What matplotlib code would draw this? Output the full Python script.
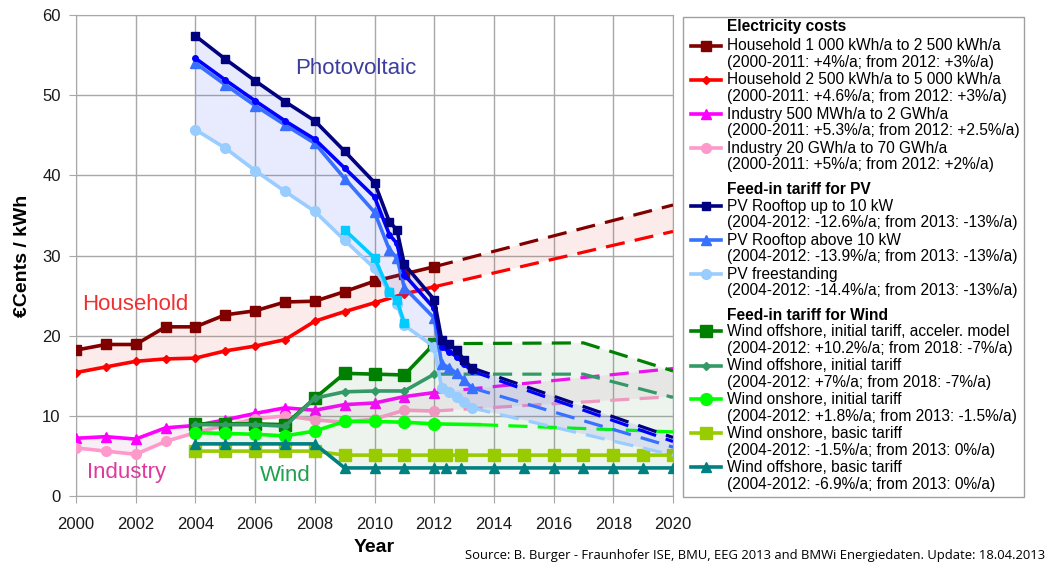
import matplotlib
matplotlib.use("Agg")
import matplotlib.pyplot as plt
from matplotlib.lines import Line2D
from matplotlib.patches import Rectangle

plt.rcParams["font.family"] = ["Liberation Sans", "DejaVu Sans"]

# ---- data, €Cents / kWh ----
hh_years = [2000, 2001, 2002, 2003, 2004, 2005, 2006, 2007, 2008, 2009, 2010, 2011, 2012]
hh_small = [18.2, 18.9, 18.9, 21.1, 21.1, 22.6, 23.1, 24.2, 24.3, 25.5, 26.8, 27.7, 28.6]
hh_large = [15.4, 16.1, 16.8, 17.1, 17.2, 18.1, 18.7, 19.5, 21.8, 23.0, 24.1, 25.2, 26.1]
ind_small = [7.2, 7.4, 7.1, 8.5, 8.8, 9.5, 10.3, 11.0, 10.7, 11.4, 11.6, 12.4, 12.9]
ind_large = [6.0, 5.6, 5.2, 6.8, 7.9, 8.8, 9.6, 10.0, 9.5, 9.2, 9.6, 10.7, 10.6]

proj_years = [2012, 2020]
hh_small_proj = [28.6, 36.3]
hh_large_proj = [26.1, 33.0]
ind_small_proj = [12.9, 15.9]
ind_large_proj = [10.6, 12.4]

pv_years = [2004, 2005, 2006, 2007, 2008, 2009, 2010, 2010.5, 2010.75, 2011,
            2012, 2012.25, 2012.5, 2012.75, 2013.0, 2013.25]
pv_small = [57.4, 54.5, 51.8, 49.2, 46.8, 43.0, 39.1, 34.2, 33.2, 28.9,
            24.5, 19.5, 18.9, 18.2, 17.0, 16.0]
pv_mid = [54.6, 51.9, 49.3, 46.8, 44.5, 40.9, 37.3, 32.6, 31.5, 27.6,
          23.4, 18.6, 18.0, 17.4, 16.5, 15.6]
pv_large = [54.0, 51.3, 48.7, 46.3, 44.0, 39.6, 35.4, 30.7, 29.7, 26.0,
            22.2, 16.5, 16.0, 15.3, 14.5, 13.5]
pv_free = [45.7, 43.4, 40.6, 38.0, 35.5, 31.9, 28.4, 25.4, 24.0, 21.3,
           18.6, 13.5, 13.0, 12.4, 11.7, 11.0]
pv_conv_years = [2009, 2010, 2010.5, 2010.75, 2011]
pv_conv = [33.2, 29.7, 25.5, 24.4, 21.6]

pv_proj_years = [2013.25, 2020]
pv_small_proj = [16.0, 7.3]
pv_mid_proj = [15.6, 6.8]
pv_large_proj = [13.5, 6.1]
pv_free_proj = [11.0, 5.1]

wind_years = [2004, 2005, 2006, 2007, 2008, 2009, 2010, 2011, 2012]
off_accel = [9.0, 9.0, 9.0, 8.9, 12.2, 15.3, 15.2, 15.1, 19.0]
off_init = [8.9, 8.9, 8.9, 8.7, 12.2, 13.0, 13.1, 13.1, 15.2]
off_proj_years = [2012, 2017, 2020]
off_accel_proj = [19.0, 19.1, 15.6]
off_init_proj = [15.2, 15.2, 12.3]

on_init_years = [2004, 2005, 2006, 2007, 2008, 2009, 2010, 2011, 2012, 2013.5]
on_init = [7.9, 7.8, 7.7, 7.5, 8.1, 9.3, 9.3, 9.2, 9.0, 8.9]
on_init_proj_years = [2013.5, 2020]
on_init_proj = [8.9, 8.0]

basic_years = [2004, 2005, 2006, 2007, 2008, 2009, 2010, 2011, 2012, 2012.4,
               2012.9, 2014, 2015, 2016, 2017, 2018, 2019, 2020]
on_basic = [5.6, 5.6, 5.6, 5.6, 5.6, 5.1, 5.1, 5.1, 5.1, 5.1,
            5.1, 5.1, 5.1, 5.1, 5.1, 5.1, 5.1, 5.1]
off_basic = [6.5, 6.5, 6.5, 6.5, 6.5, 3.5, 3.5, 3.5, 3.5, 3.5,
             3.5, 3.5, 3.5, 3.5, 3.5, 3.5, 3.5, 3.5]

STYLE = {
    "hh_small": dict(color="#800000", marker="s", ms=7.5),
    "hh_large": dict(color="#ff0000", marker="D", ms=4.5),
    "ind_small": dict(color="#ff00ff", marker="^", ms=7),
    "ind_large": dict(color="#ff99cc", marker="o", ms=7),
    "pv_small": dict(color="#000080", marker="s", ms=6),
    "pv_mid": dict(color="#0000ff", marker="o", ms=4),
    "pv_large": dict(color="#3870ff", marker="^", ms=6.5),
    "pv_free": dict(color="#99ccff", marker="o", ms=7),
    "pv_conv": dict(color="#00ccff", marker="s", ms=6),
    "off_accel": dict(color="#008000", marker="s", ms=8),
    "off_init": dict(color="#339966", marker="D", ms=4.5),
    "on_init": dict(color="#00ff00", marker="o", ms=8.5),
    "on_basic": dict(color="#99cc00", marker="s", ms=8),
    "off_basic": dict(color="#008080", marker="^", ms=6.5),
}


def draw(ax, key, xs, ys, pxs=None, pys=None, z=3, markevery=None):
    st = STYLE[key]
    ax.plot(xs, ys, color=st["color"], marker=st["marker"], ms=st["ms"],
            mec=st["color"], lw=2.6, zorder=z, markevery=markevery,
            solid_joinstyle="round")
    if pxs is not None:
        ax.plot(pxs, pys, color=st["color"], lw=2.3, dashes=(6, 3.2), zorder=z)


def band(ax, top_x, top_y, bot_x, bot_y, color, alpha, z):
    ax.fill(list(top_x) + list(bot_x)[::-1], list(top_y) + list(bot_y)[::-1],
            color=color, alpha=alpha, lw=0, zorder=z)


def main():
    fig = plt.figure(figsize=(10.48, 5.65), dpi=100)
    ax = fig.add_axes([76 / 1048, 69 / 565, 597 / 1048, 481 / 565])
    ax.set_xlim(2000, 2020)
    ax.set_ylim(0, 60)
    ax.set_xticks(range(2000, 2021, 2))
    ax.set_yticks(range(0, 61, 10))
    ax.grid(True, color="#a8a8a8", lw=1)
    ax.set_axisbelow(True)
    for s in ax.spines.values():
        s.set_color("#a8a8a8")
    ax.tick_params(colors="#a8a8a8", labelcolor="#1a1a1a", labelsize=12, length=5)
    ax.tick_params(axis="x", pad=10)
    ax.tick_params(axis="y", pad=6)

    # electricity costs
    band(ax, hh_years + proj_years, hh_small + hh_small_proj,
         hh_years + proj_years, hh_large + hh_large_proj, "#e06060", 0.12, 1)
    draw(ax, "hh_small", hh_years, hh_small, proj_years, hh_small_proj)
    draw(ax, "hh_large", hh_years, hh_large, proj_years, hh_large_proj)
    band(ax, hh_years + proj_years, ind_small + ind_small_proj,
         hh_years + proj_years, ind_large + ind_large_proj, "#c080b0", 0.12, 1)
    draw(ax, "ind_small", hh_years, ind_small, proj_years, ind_small_proj)
    draw(ax, "ind_large", hh_years, ind_large, proj_years, ind_large_proj)

    # wind
    band(ax, wind_years + off_proj_years, off_accel + off_accel_proj,
         basic_years, off_basic, "#60a060", 0.11, 4)
    draw(ax, "off_accel", wind_years, off_accel, off_proj_years, off_accel_proj, z=5)
    draw(ax, "off_init", wind_years, off_init, off_proj_years, off_init_proj, z=5)
    draw(ax, "on_init", on_init_years, on_init, on_init_proj_years, on_init_proj,
         z=5, markevery=slice(0, 9))
    draw(ax, "on_basic", basic_years, on_basic, z=5)
    draw(ax, "off_basic", basic_years, off_basic, z=5)

    # photovoltaic
    band(ax, pv_years + pv_proj_years, pv_small + pv_small_proj,
         pv_years + pv_proj_years, pv_free + pv_free_proj, "#5060f0", 0.13, 6)
    draw(ax, "pv_free", pv_years, pv_free, pv_proj_years, pv_free_proj, z=7)
    draw(ax, "pv_conv", pv_conv_years, pv_conv, z=7)
    draw(ax, "pv_large", pv_years, pv_large, pv_proj_years, pv_large_proj, z=7)
    draw(ax, "pv_mid", pv_years, pv_mid, pv_proj_years, pv_mid_proj, z=7)
    draw(ax, "pv_small", pv_years, pv_small, pv_proj_years, pv_small_proj, z=7)

    ax.text(2007.35, 53.3, "Photovoltaic", color="#3d3d9e", fontsize=16, va="center", zorder=9)
    ax.text(2000.2, 23.9, "Household", color="#f03030", fontsize=16, va="center", zorder=9)
    ax.text(2000.37, 2.9, "Industry", color="#e0389e", fontsize=16, va="center", zorder=9)
    ax.text(2006.17, 2.6, "Wind", color="#20a050", fontsize=16, va="center", zorder=9)

    ax.set_ylabel("€Cents / kWh", fontsize=14, fontweight="bold")
    ax.yaxis.set_label_coords(-0.075, 0.5)
    ax.set_xlabel("Year", fontsize=14, fontweight="bold")
    ax.xaxis.set_label_coords(0.5, -0.089)

    # ---- legend box (figure pixels -> fractions) ----
    W, H = 1048, 565
    fx = lambda px: px / W
    fy = lambda py: 1 - py / H
    fig.add_artist(Rectangle((fx(683), fy(497)), fx(1024) - fx(683), fy(17) - fy(497),
                             transform=fig.transFigure, fill=False,
                             edgecolor="#a0a0a0", lw=1))
    headers = [("Electricity costs", 26), ("Feed-in tariff for PV", 189),
               ("Feed-in tariff for Wind", 315)]
    for txt, py in headers:
        fig.text(fx(727), fy(py), txt, fontsize=11.2, fontweight="bold", va="center")

    entries = [
        ("hh_small", "Household 1 000 kWh/a to 2 500 kWh/a", "(2000-2011: +4%/a; from 2012: +3%/a)", 46),
        ("hh_large", "Household 2 500 kWh/a to 5 000 kWh/a", "(2000-2011: +4.6%/a; from 2012: +3%/a)", 80),
        ("ind_small", "Industry 500 MWh/a to 2 GWh/a", "(2000-2011: +5.3%/a; from 2012: +2.5%/a)", 114),
        ("ind_large", "Industry 20 GWh/a to 70 GWh/a", "(2000-2011: +5%/a; from 2012: +2%/a)", 148),
        ("pv_small", "PV Rooftop up to 10 kW", "(2004-2012: -12.6%/a; from 2013: -13%/a)", 206),
        ("pv_large", "PV Rooftop above 10 kW", "(2004-2012: -13.9%/a; from 2013: -13%/a)", 240),
        ("pv_free", "PV freestanding", "(2004-2012: -14.4%/a; from 2013: -13%/a)", 274),
        ("off_accel", "Wind offshore, initial tariff, acceler. model", "(2004-2012: +10.2%/a; from 2018: -7%/a)", 331),
        ("off_init", "Wind offshore, initial tariff", "(2004-2012: +7%/a; from 2018: -7%/a)", 366),
        ("on_init", "Wind onshore, initial tariff", "(2004-2012: +1.8%/a; from 2013: -1.5%/a)", 399),
        ("on_basic", "Wind onshore, basic tariff", "(2004-2012: -1.5%/a; from 2013: 0%/a)", 433),
        ("off_basic", "Wind offshore, basic tariff", "(2004-2012: -6.9%/a; from 2013: 0%/a)", 467),
    ]
    for key, l1, l2, py in entries:
        st = STYLE[key]
        fig.add_artist(Line2D([fx(691), fx(706), fx(721)], [fy(py)] * 3,
                              transform=fig.transFigure, color=st["color"], lw=2.6,
                              marker=st["marker"], ms=st["ms"], markevery=[1]))
        fig.text(fx(727), fy(py), l1, fontsize=11.2, va="center")
        fig.text(fx(727), fy(py + 17), l2, fontsize=11.2, va="center")

    fig.text(fx(1045), fy(556),
             "Source: B. Burger - Fraunhofer ISE, BMU, EEG 2013 and BMWi Energiedaten. Update: 18.04.2013",
             fontsize=9.4, family=["Open Sans", "DejaVu Sans"], ha="right", va="center")

    fig.savefig("out.png", dpi=100)
    plt.close(fig)


if __name__ == "__main__":
    main()
